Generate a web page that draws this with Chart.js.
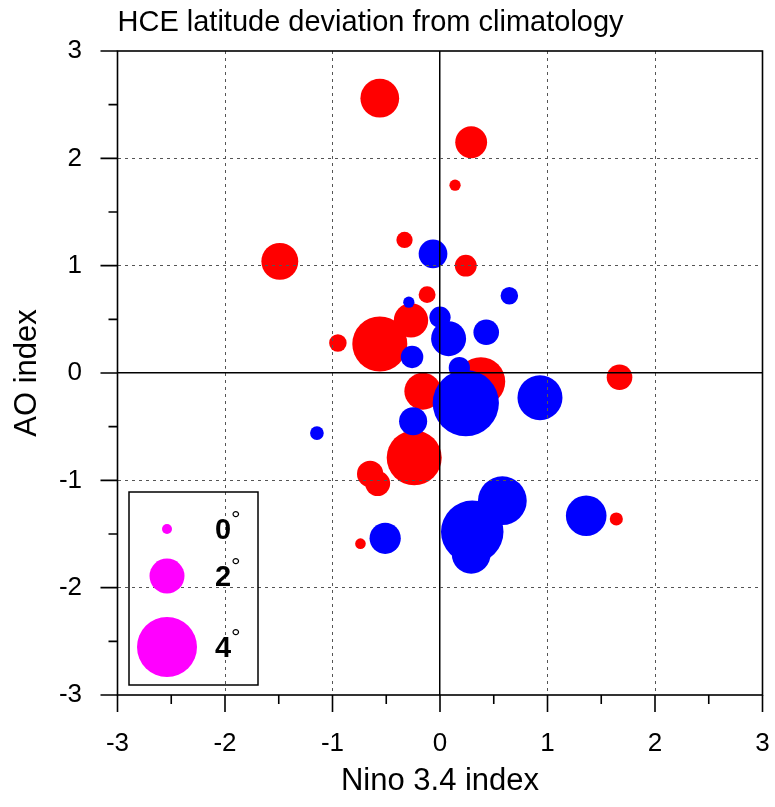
<!DOCTYPE html>
<html><head><meta charset="utf-8">
<script src="https://cdn.jsdelivr.net/npm/chart.js@4.4.1/dist/chart.umd.min.js"></script>
<style>html,body{margin:0;padding:0;background:#fff;} #wrap{width:775px;height:807px;}</style>
</head><body><div id="wrap"><canvas id="c" width="775" height="807"></canvas></div>
<script>
// ---- data ----
const chartTitle = 'HCE latitude deviation from climatology';
const xAxisTitle = 'Nino 3.4 index';
const yAxisTitle = 'AO index';
const axisTickValues = [-3, -2, -1, 0, 1, 2, 3];
const legendDegrees = [0, 2, 4];
// Nino 3.4 index (x) for each year
const nino34 = [-0.56, 0.29, 0.14, -0.33, -1.49, 0.24, -0.12, -0.27, -0.56, -0.95, 0.38, -0.16, -0.24, -0.65, -0.58, 1.67, 1.64, -0.74,
                -0.065, -0.29, 0.0, 0.08, 0.43, 0.645, -0.26, 0.18, 0.24, -0.25, 0.93, -1.145, 0.58, 0.30, 0.29, 1.36, -0.51];
// AO index (y) for each year
const aoIndex = [2.56, 2.15, 1.75, 1.24, 1.04, 1.00, 0.73, 0.49, 0.27, 0.28, -0.08, -0.17, -0.79, -0.94, -1.03, -0.04, -1.36, -1.59,
                 1.11, 0.66, 0.52, 0.32, 0.38, 0.72, 0.15, 0.05, -0.28, -0.45, -0.23, -0.56, -1.19, -1.48, -1.69, -1.33, -1.54];
// HCE latitude deviation (degrees); positive = red, negative = blue
const hceDeviation = [2.3, 1.75, 0.1, 0.5, 2.15, 0.95, 0.55, 1.95, 3.6, 0.6, 3.1, 2.15, 3.6, 1.3, 1.2, 1.25, 0.25, 0.05,
                      -1.5, -0.1, -0.9, -2.0, -1.25, -0.6, -1.0, -0.9, -4.5, -1.45, -2.8, -0.3, -3.1, -4.2, -2.3, -2.45, -1.7];

// ---- marker size: pixel radius for a deviation in degrees ----
function radiusFor(d) { return 5 + 6.25 * Math.abs(d); }

const redPts = [], bluePts = [];
nino34.forEach((x, i) => {
  const p = { x: x, y: aoIndex[i], r: radiusFor(hceDeviation[i]) };
  (hceDeviation[i] >= 0 ? redPts : bluePts).push(p);
});

const FONT = '"Liberation Sans", Arial, Helvetica, sans-serif';

function gridColor(c) {
  if (!c.tick) return 'rgba(0,0,0,0)';
  const v = c.tick.value;
  if (v === 0) return '#000000';
  if (Math.abs(v) === 3) return 'rgba(0,0,0,0)';
  return '#555555';
}
function gridWidth(c) { return (c.tick && c.tick.value === 0) ? 1.5 : 1; }
function gridDash(c) { return (c.tick && c.tick.value !== 0) ? [3, 4] : []; }

const decor = {
  id: 'decor',
  afterDraw(chart) {
    const { ctx, chartArea: a, scales: { x, y } } = chart;
    ctx.save();
    ctx.strokeStyle = '#000'; ctx.lineWidth = 1.6; ctx.setLineDash([]);
    ctx.strokeRect(a.left, a.top, a.right - a.left, a.bottom - a.top);
    // outward major/minor ticks
    ctx.beginPath();
    for (let v = -3; v <= 3.0001; v += 0.5) {
      const major = Math.abs(v - Math.round(v)) < 1e-6;
      const L = major ? 17 : 9;
      const px = x.getPixelForValue(v);
      ctx.moveTo(px, a.bottom); ctx.lineTo(px, a.bottom + L);
      const py = y.getPixelForValue(v);
      ctx.moveTo(a.left, py); ctx.lineTo(a.left - L, py);
    }
    ctx.stroke();
    // title
    ctx.fillStyle = '#000';
    ctx.font = '29px ' + FONT; ctx.textAlign = 'left'; ctx.textBaseline = 'alphabetic';
    ctx.fillText(chartTitle, a.left, 31);
    // size legend
    const bx = 129, by = 492, bw = 129, bh = 193;
    ctx.lineWidth = 1.5; ctx.strokeRect(bx, by, bw, bh);
    const rowY = [529, 576, 647];
    legendDegrees.forEach((d, i) => {
      ctx.fillStyle = '#ff00ff';
      ctx.beginPath(); ctx.arc(167, rowY[i], radiusFor(d), 0, Math.PI * 2); ctx.fill();
      ctx.fillStyle = '#000';
      ctx.font = 'bold 29px ' + FONT; ctx.textAlign = 'left'; ctx.textBaseline = 'alphabetic';
      ctx.fillText(String(d), 215, rowY[i] + 10);
      ctx.font = '24px ' + FONT;
      ctx.fillText('\u00B0', 231, rowY[i] - 2);
    });
    ctx.restore();
  }
};

const hidden = 'rgba(0,0,0,0)';
new Chart(document.getElementById('c').getContext('2d'), {
  type: 'bubble',
  data: { datasets: [
    { label: 'positive', data: redPts, backgroundColor: '#ff0000', borderWidth: 0, hoverBorderWidth: 0, order: 2 },
    { label: 'negative', data: bluePts, backgroundColor: '#0000ff', borderWidth: 0, hoverBorderWidth: 0, order: 1 }
  ]},
  options: {
    responsive: false, animation: false, devicePixelRatio: 1, events: [],
    layout: { autoPadding: false, padding: { left: 0, right: 12.5, top: 51, bottom: 0 } },
    plugins: { legend: { display: false }, tooltip: { enabled: false }, title: { display: false } },
    scales: {
      x: {
        type: 'linear', min: -3, max: 3,
        afterBuildTicks: s => { s.ticks = axisTickValues.map(v => ({ value: v })); },
        afterFit: s => { s.height = 112; },
        ticks: { font: { family: FONT, size: 26 }, color: '#000', padding: 0, maxRotation: 0, callback: v => String(v) },
        grid: { color: gridColor, lineWidth: gridWidth, drawTicks: true, tickLength: 33, tickColor: hidden, z: 1 },
        border: { display: false, dash: gridDash },
        title: { display: true, text: xAxisTitle, font: { family: FONT, size: 31 }, color: '#000', padding: { top: 0, bottom: 7 } }
      },
      y: {
        type: 'linear', min: -3, max: 3,
        afterBuildTicks: s => { s.ticks = axisTickValues.map(v => ({ value: v })); },
        afterFit: s => { s.width = 117.5; },
        ticks: { font: { family: FONT, size: 26 }, color: '#000', padding: 0, callback: v => String(v) },
        grid: { color: gridColor, lineWidth: gridWidth, drawTicks: true, tickLength: 35.5, tickColor: hidden, z: 1 },
        border: { display: false, dash: gridDash },
        title: { display: true, text: yAxisTitle, font: { family: FONT, size: 31 }, color: '#000', padding: { top: 9, bottom: 0 } }
      }
    }
  },
  plugins: [decor]
});
</script>
</body></html>
